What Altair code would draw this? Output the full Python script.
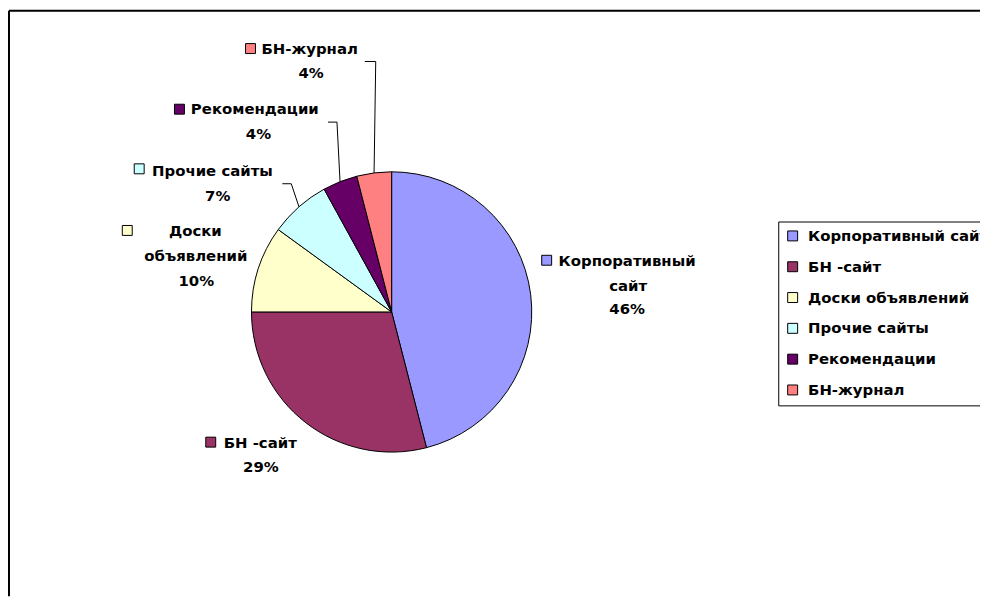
import altair as alt
import pandas as pd

# ---- data ----
categories = ["Корпоративный сайт", "БН -сайт", "Доски объявлений",
              "Прочие сайты", "Рекомендации", "БН-журнал"]
shares = [46, 29, 10, 7, 4, 4]          # percent
colors = ["#9999FF", "#993366", "#FFFFCC", "#CCFFFF", "#660066", "#FF8080"]

df = pd.DataFrame({"category": categories, "value": shares,
                   "order": list(range(len(categories)))})

# ---- layout / style ----
W, H = 978, 590
CX, CY, R = 386, 304, 141
FONT = "DejaVu Sans"
FS = 15
color_scale = alt.Scale(domain=categories, range=colors)


def with_angles(ch):
    return (ch.transform_window(cum="sum(value)", sort=[alt.SortField("order", order="ascending")],
                                frame=[None, 0])
              .transform_joinaggregate(total="sum(value)")
              .transform_calculate(mid="2*PI*(datum.cum - datum.value/2)/datum.total"))


frame_df = pd.DataFrame({"k": [0]})
frame_top = alt.Chart(frame_df).mark_rule(color="black", strokeWidth=2).encode(
    x=alt.value(1), x2=alt.value(W), y=alt.value(1))
frame_left = alt.Chart(frame_df).mark_rule(color="black", strokeWidth=2).encode(
    x=alt.value(1), y=alt.value(1), y2=alt.value(H))

pie = alt.Chart(df).mark_arc(stroke="black", strokeWidth=1, radius=R).encode(
    theta=alt.Theta("value:Q", stack=True),
    order=alt.Order("order:Q", sort="ascending"),
    color=alt.Color("category:N", scale=color_scale, sort=categories,
                    legend=alt.Legend(
                        title=None, orient="none", legendX=775, legendY=213,
                        symbolType="square", symbolSize=100,
                        symbolStrokeColor="black", symbolStrokeWidth=1,
                        labelFont=FONT, labelFontWeight="bold", labelFontSize=FS,
                        labelColor="black", labelLimit=0, labelOffset=8,
                        padding=7, rowPadding=15,
                        strokeColor="black", fillColor="white")),
    x=alt.value(CX), y=alt.value(CY),
)


def leader(cat, ex, ey, hx):
    ch = with_angles(alt.Chart(df))
    return (ch.transform_filter(alt.datum.category == cat)
              .transform_calculate(
                  px=f"[{CX} + {R}*sin(datum.mid), {ex}, {hx}]",
                  py=f"[{CY} - {R}*cos(datum.mid), {ey}, {ey}]",
                  k="[0, 1, 2]")
              .transform_flatten(["px", "py", "k"])
              .mark_line(color="black", strokeWidth=1)
              .encode(x=alt.X("px:Q", scale=None, axis=None),
                      y=alt.Y("py:Q", scale=None, axis=None),
                      order=alt.Order("k:Q")))


leaders = [
    leader("БН-журнал", 370, 52, 359),
    leader("Рекомендации", 331, 113, 322),
    leader("Прочие сайты", 285, 175, 276),
]

EXPR = {
    "name": "datum.category",
    "w0": "split(datum.category, ' ')[0]",
    "w1": "split(datum.category, ' ')[1]",
    "pct": "datum.value + '%'",
}

label_specs = [
    ("Корпоративный сайт", (542, 252), [("w0", 554, 253, "left"), ("w1", 624, 277.5, "center"), ("pct", 623, 301.5, "center")]),
    ("БН -сайт", (204, 435), [("name", 217, 436, "left"), ("pct", 254.5, 460, "center")]),
    ("Доски объявлений", (120, 222), [("w0", 188.5, 223, "center"), ("w1", 189, 248, "center"), ("pct", 189.5, 273, "center")]),
    ("Прочие сайты", (132, 160), [("name", 145, 162, "left"), ("pct", 211, 187, "center")]),
    ("Рекомендации", (172.5, 100), [("name", 184, 100, "left"), ("pct", 252, 125, "center")]),
    ("БН-журнал", (244, 39), [("name", 255, 39, "left"), ("pct", 305, 64, "center")]),
]

labels = []
for cat, (sx, sy), lines in label_specs:
    sub = alt.Chart(df).transform_filter(alt.datum.category == cat)
    labels.append(sub.mark_square(size=100, stroke="black", strokeWidth=1, filled=True, opacity=1).encode(
        color=alt.Color("category:N", scale=color_scale, legend=None),
        x=alt.value(sx), y=alt.value(sy)))
    for key, x, y, align in lines:
        labels.append(sub.transform_calculate(t=EXPR[key]).mark_text(
            font=FONT, fontWeight="bold", fontSize=FS, color="black",
            align=align, baseline="middle").encode(
            text="t:N", x=alt.value(x), y=alt.value(y)))

chart = alt.layer(frame_top, frame_left, pie, *leaders, *labels).properties(
    width=W, height=H, autosize="none", padding=0, background="white"
).configure_view(stroke=None)

chart.save("out.html", embed_options={"renderer": "svg", "actions": False})
